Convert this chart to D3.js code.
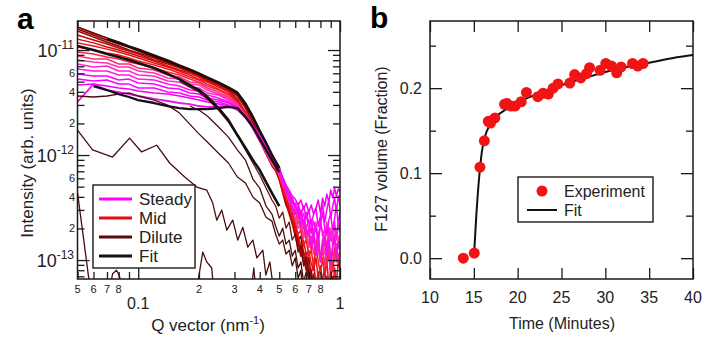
<!DOCTYPE html>
<html>
<head>
<meta charset="utf-8">
<script src="https://cdn.jsdelivr.net/npm/d3@7"></script>
<style>
body { margin: 0; background: #fff; }
svg { font-family: "Liberation Sans", Arial, sans-serif; }
</style>
</head>
<body>
<svg id="chart" width="715" height="340"></svg>
<script>
// ---------- panel a: SAXS curves, intensity in units of 1e-12 ----------
const qGrid = [0.05,0.06,0.07,0.08,0.09,0.1,0.12,0.14,0.16,0.18,0.2,0.22,0.25,0.28,0.31,0.34,0.37,0.4,0.43,0.46,
	0.48,0.5,0.52,0.54,0.56,0.58,0.6,0.62,0.64,0.66,0.68,0.7,0.72,0.74,0.76,0.78,0.8,0.82,0.84,0.86,0.88,0.9,0.92,0.94,0.96,0.98,1.0];

const darkRed1 = [16.6,14.5,13.0,11.9,10.9,10.2,8.96,8.03,7.2,6.59,6.04,5.53,4.96,4.44,3.98,3.13,2.35,1.73,1.33,1.02,
	0.877,0.769,0.553,0.425,0.341,0.274,0.21,0.155,0.169,0.114,0.092,0.105,0.067,0.0518,0.0617,0.04,0.04,0.0496,0.04,0.04,0.04,0.04,0.04,0.04,0.04,0.04,0.04];
const darkRed2 = [15.85,13.9,12.45,11.4,10.7,9.78,8.58,7.69,7.04,6.45,5.91,5.41,4.85,4.35,3.81,2.93,2.2,1.66,1.24,0.957,
	0.821,0.689,0.485,0.373,0.327,0.251,0.193,0.162,0.124,0.096,0.109,0.077,0.059,0.07,0.04,0.0617,0.04,0.04,0.0518,0.04,0.04,0.04,0.04,0.04,0.04,0.04,0.04];
const darkRed3 = [15.2,13.3,11.9,10.9,10.0,9.36,8.39,7.52,6.89,6.31,5.78,5.29,4.74,4.25,3.65,2.80,2.06,1.55,1.17,0.896,
	0.803,0.631,0.454,0.334,0.299,0.23,0.176,0.142,0.109,0.119,0.084,0.067,0.077,0.0518,0.0617,0.04,0.0541,0.04,0.0645,0.04,0.04,0.04,0.04,0.04,0.04,0.04,0.04];
const red1 = [13.9,12.45,11.4,10.45,9.78,9.16,8.03,7.36,6.74,6.17,5.65,5.18,4.64,4.16,3.42,2.51,1.85,1.36,1.02,0.786,
	0.705,0.578,0.434,0.341,0.274,0.22,0.169,0.13,0.142,0.1,0.08,0.096,0.0617,0.074,0.0496,0.0645,0.04,0.0565,0.04,0.07,0.04,0.0496,0.04,0.059,0.04,0.04,0.0518];
const red2 = [12.7,11.7,10.7,10.0,9.36,8.77,7.86,7.04,6.45,6.04,5.53,5.07,4.54,4.07,3.34,2.57,1.93,1.45,1.12,0.858,
	0.752,0.591,0.464,0.365,0.299,0.24,0.193,0.162,0.124,0.105,0.119,0.088,0.074,0.096,0.059,0.077,0.0518,0.067,0.084,0.0496,0.0645,0.04,0.07,0.0541,0.04,0.0617,0.045];
const red3 = [11.7,10.9,10.2,9.57,8.96,8.39,7.52,6.89,6.31,5.78,5.29,4.96,4.44,3.98,3.27,2.51,1.89,1.45,1.12,0.877,
	0.803,0.618,0.464,0.389,0.306,0.262,0.201,0.169,0.136,0.155,0.109,0.124,0.092,0.08,0.105,0.067,0.088,0.059,0.077,0.1,0.0565,0.08,0.0518,0.084,0.067,0.0496,0.074];
const red4 = [10.7,10.0,9.36,8.96,8.39,7.86,7.2,6.59,6.04,5.53,5.18,4.74,4.25,3.81,3.2,2.46,1.85,1.42,1.09,0.858,
	0.821,0.631,0.507,0.389,0.341,0.262,0.23,0.176,0.193,0.136,0.155,0.109,0.124,0.088,0.142,0.096,0.074,0.105,0.07,0.092,0.119,0.0645,0.096,0.08,0.059,0.1,0.077];
const pink1 = [9.57,9.16,8.58,8.21,7.69,7.36,6.74,6.17,5.78,5.29,4.96,4.54,4.16,3.73,3.13,2.40,1.81,1.39,1.07,0.84,
	0.821,0.659,0.507,0.464,0.357,0.313,0.24,0.274,0.184,0.21,0.155,0.18,0.124,0.162,0.109,0.136,0.096,0.119,0.155,0.088,0.124,0.105,0.077,0.13,0.096,0.114,0.088];
const pink2 = [8.77,8.21,8.21,7.36,7.36,6.74,6.45,5.78,5.53,4.96,4.85,4.35,3.98,3.57,3.06,2.35,1.77,1.36,1.04,0.821,
	0.821,0.645,0.541,0.425,0.373,0.286,0.299,0.22,0.251,0.169,0.201,0.136,0.169,0.114,0.142,0.184,0.105,0.13,0.088,0.142,0.109,0.08,0.124,0.096,0.142,0.105,0.119];
const pink3 = [8.03,7.69,7.52,6.89,6.89,6.31,6.04,5.41,5.29,4.74,4.64,4.16,3.81,3.49,2.99,2.40,1.85,1.42,1.09,0.858,
	0.839,0.674,0.529,0.454,0.349,0.327,0.251,0.201,0.23,0.162,0.184,0.13,0.148,0.201,0.119,0.142,0.096,0.162,0.114,0.136,0.169,0.105,0.13,0.155,0.109,0.169,0.13];
const steady1 = [7.36,6.89,7.04,6.31,6.31,5.78,5.65,5.07,4.96,4.44,4.35,3.90,3.73,3.34,2.93,2.35,1.81,1.39,1.07,0.858,
	0.786,0.645,0.565,0.444,0.425,0.32,0.349,0.251,0.299,0.21,0.274,0.193,0.245,0.169,0.23,0.155,0.21,0.188,0.142,0.23,0.162,0.201,0.136,0.215,0.169,0.235,0.184];
const steady2 = [6.59,6.31,6.31,5.78,5.78,5.29,5.18,4.74,4.54,4.16,4.07,3.73,3.49,3.2,2.87,2.35,1.85,1.42,1.12,0.896,
	0.821,0.689,0.529,0.507,0.381,0.389,0.286,0.327,0.235,0.28,0.201,0.24,0.22,0.162,0.21,0.136,0.251,0.169,0.197,0.124,0.206,0.152,0.184,0.23,0.155,0.21,0.197];
const steady3 = [5.91,5.65,5.65,5.18,5.29,4.85,4.74,4.35,4.25,3.9,3.81,3.49,3.34,3.13,2.8,2.35,1.89,1.48,1.17,0.936,
	0.839,0.705,0.591,0.464,0.444,0.349,0.334,0.262,0.293,0.22,0.286,0.23,0.18,0.235,0.193,0.162,0.22,0.286,0.201,0.173,0.24,0.274,0.188,0.251,0.327,0.22,0.286];
const steady4 = [5.29,5.07,5.18,4.74,4.74,4.35,4.35,3.98,3.9,3.65,3.57,3.34,3.2,2.99,2.74,2.3,1.89,1.52,1.22,0.978,
	0.858,0.72,0.604,0.507,0.416,0.389,0.327,0.349,0.268,0.327,0.251,0.299,0.22,0.274,0.313,0.21,0.262,0.341,0.23,0.299,0.373,0.251,0.327,0.389,0.286,0.407,0.341];
const steady5 = [4.64,4.74,4.54,4.35,4.25,4.07,3.9,3.81,3.65,3.49,3.34,3.2,3.06,2.93,2.68,2.25,1.85,1.48,1.19,0.957,
	0.877,0.736,0.618,0.518,0.464,0.407,0.381,0.334,0.373,0.306,0.349,0.286,0.334,0.274,0.313,0.373,0.28,0.389,0.327,0.425,0.357,0.464,0.389,0.485,0.407,0.475,0.444];
const steady6 = [3.2,4.74,4.16,3.98,3.81,3.65,3.42,3.27,3.13,3.06,2.93,2.87,2.87,2.93,2.74,2.3,1.89,1.52,1.22,0.978,
	0.858,0.689,0.578,0.454,0.398,0.313,0.274,0.306,0.21,0.24,0.176,0.197,0.136,0.184,0.114,0.155,0.096,0.142,0.169,0.109,0.155,0.092,0.136,0.173,0.105,0.148,0.124];

const dilute1 = [3.65,3.57,3.65,3.81,3.9,3.65,3.34,2.99,2.51,1.97,1.59,1.33,1.04,0.84,0.618,0.541,0.398,0.349,0.256,0.235,
	0.176,0.142,0.155,0.114,0.124,0.088,0.105,0.067,0.08,0.04,0.0565,0.04,0.04,0.04,0.0496,0.04,0.04,0.04,0.04,0.04,0.04,0.04,0.04,0.04,0.04,0.04,0.04];
const dilute5 = [null,null,null,null,null,null,null,null,null,2.93,2.68,2.35,1.85,1.48,1.12,0.896,0.591,0.485,0.327,0.274,
	0.21,0.169,0.201,0.142,0.155,0.109,0.124,0.084,0.096,0.0617,0.077,0.04,0.0541,0.04,0.04,0.0617,0.04,0.04,0.04,0.04,0.04,0.04,0.04,0.04,0.04,0.04,0.04];
const dilute6 = [null,null,null,null,null,null,null,null,5.07,4.44,3.98,3.42,2.68,2.06,1.52,1.12,0.84,0.645,0.485,0.373,
	0.327,0.251,0.286,0.201,0.23,0.155,0.176,0.119,0.136,0.088,0.105,0.0645,0.08,0.04,0.059,0.04,0.0496,0.04,0.04,0.04,0.04,0.04,0.04,0.04,0.04,0.04,0.04];

const dilute2Q = [0.05,0.0594,0.0746,0.0906,0.1039,0.1234,0.1431,0.170,0.195,0.2185,0.234,0.245,0.2595,0.2747,0.294,0.3115,0.33,0.349,0.37,0.387,0.4145,0.429,0.449,0.47];
const dilute2 = [1.73,1.12,0.957,1.45,1.07,1.24,0.84,0.618,0.496,0.464,0.349,0.24,0.299,0.193,0.24,0.155,0.205,0.133,0.155,0.105,0.124,0.072,0.096,0.05];
const dilute3Q = [0.05,0.058];
const dilute3 = [0.44,0.05];
const dilute4Q = [0.05,0.0704,0.0746,0.0781,0.0808,0.0846,0.1905,0.2088,0.2185,0.2314,0.2393,0.357,0.374,0.387];
const dilute4 = [0.04,0.04,0.074,0.08,0.07,0.04,0.04,0.119,0.096,0.084,0.04,0.04,0.084,0.04];

const fitQ = [0.05,0.06,0.07,0.08,0.09,0.1,0.12,0.14,0.16,0.18,0.2,0.22,0.25,0.28,0.31,0.34,0.37,0.4,0.43,0.46,0.5];
const fitTop = [null,null,12.7,11.7,10.7,10.0,8.77,7.86,7.04,6.45,5.91,5.41,4.85,4.35,3.9,3.06,2.3,1.69,1.3,1.0,0.752];
const fitMid = [10.9,10.0,9.16,8.58,8.03,7.52,6.74,5.91,5.29,4.64,4.16,3.57,2.80,2.15,1.55,1.17,0.896,0.72,0.553,0.434,0.327];
const fitSteady = [null,4.54,4.16,3.81,3.57,3.34,3.13,2.93,2.80,2.74,2.74,2.74,2.80,2.87,2.80,2.30,1.85,1.42,1.12,0.896,0.689];

// axis ticks, panel a
const qMajor = [0.1, 1];
const qMinor = [0.05,0.06,0.07,0.08,0.09,0.2,0.3,0.4,0.5,0.6,0.7,0.8,0.9];
const qMinorLabels = [[0.05,'5'],[0.06,'6'],[0.07,'7'],[0.08,'8'],[0.2,'2'],[0.3,'3'],[0.4,'4'],[0.5,'5'],[0.6,'6'],[0.7,'7'],[0.8,'8']];
const iMajor = [[1e-13,'-13'],[1e-12,'-12'],[1e-11,'-11']];
const iMinor = [7e-14,8e-14,9e-14,2e-13,3e-13,4e-13,5e-13,6e-13,7e-13,8e-13,9e-13,2e-12,3e-12,4e-12,5e-12,6e-12,7e-12,8e-12,9e-12];
const iMinorLabels = [[2e-13,'2'],[4e-13,'4'],[6e-13,'6'],[2e-12,'2'],[4e-12,'4'],[6e-12,'6']];

// ---------- panel b: F127 volume fraction vs time ----------
const expTime = [13.8,15.05,15.7,16.2,16.65,16.9,17.4,18.5,18.75,19.2,19.7,20.4,21.0,22.3,22.9,23.5,24.05,24.6,25.95,26.5,27.2,27.85,28.2,29.4,30.05,30.7,31.3,31.8,33.1,33.7,34.3];
const expFrac = [0.0,0.006,0.107,0.138,0.161,0.159,0.165,0.181,0.182,0.179,0.179,0.184,0.195,0.190,0.194,0.193,0.200,0.205,0.206,0.216,0.212,0.217,0.224,0.221,0.229,0.226,0.218,0.225,0.229,0.226,0.229];
const fitTime = [15.0,15.3,15.58,15.9,16.27,16.84,17.6,18.5,19.5,21,22.5,24,26,28,30,32,34,36,38,40];
const fitFrac = [0.0,0.053,0.092,0.124,0.143,0.157,0.167,0.174,0.179,0.188,0.194,0.200,0.207,0.213,0.219,0.224,0.228,0.232,0.236,0.239];
const timeTicks = [10,15,20,25,30,35,40];
const fracTicks = [0.0,0.1,0.2];
const fracMinor = [0.05,0.15,0.25];

// ---------- layout ----------
const UNIT = 1e-12;
const boxA = { left: 77.5, right: 340, top: 21, bottom: 279 };
const boxB = { left: 430, right: 693, top: 21, bottom: 279 };

const xA = d3.scaleLog().domain([0.05, 1]).range([boxA.left, boxA.right]);
const yA = d3.scaleLog().domain([6.6e-14, 1.89e-11]).range([boxA.bottom, boxA.top]);
const xB = d3.scaleLinear().domain([10, 40]).range([boxB.left, boxB.right]);
const yB = d3.scaleLinear().domain([-0.0245, 0.279]).range([boxB.bottom, boxB.top]);

const svg = d3.select('#chart');

function tickRow(axisFn, scale, values, size, transform) {
	svg.append('g')
		.attr('transform', transform)
		.call(axisFn(scale).tickValues(values).tickSize(size).tickFormat(''))
		.call(g => g.select('.domain').remove())
		.selectAll('line').attr('stroke', '#1a1a1a').attr('stroke-width', 1.3);
}

function frame(box) {
	svg.append('rect')
		.attr('x', box.left).attr('y', box.top)
		.attr('width', box.right - box.left).attr('height', box.bottom - box.top)
		.attr('fill', 'none').attr('stroke', '#1a1a1a').attr('stroke-width', 1.5);
}

function drawPanelA() {
	svg.append('clipPath').attr('id', 'clipA')
		.append('rect').attr('x', boxA.left).attr('y', boxA.top)
		.attr('width', boxA.right - boxA.left).attr('height', boxA.bottom - boxA.top);

	const plot = svg.append('g').attr('clip-path', 'url(#clipA)');
	const line = d3.line()
		.defined(d => d[1] != null)
		.x(d => xA(d[0]))
		.y(d => yA(d[1] * UNIT));

	function curve(qs, vals, color, width) {
		plot.append('path')
			.datum(qs.map((q, i) => [q, vals[i]]))
			.attr('d', line)
			.attr('fill', 'none')
			.attr('stroke', color)
			.attr('stroke-width', width)
			.attr('stroke-linejoin', 'round');
	}

	// mid / dark red curves, then the steady ones on top
	curve(qGrid, darkRed1, '#6e0000', 1.7);
	curve(qGrid, darkRed2, '#850303', 1.7);
	curve(qGrid, darkRed3, '#9c0606', 1.7);
	curve(qGrid, red1, '#b80808', 1.5);
	curve(qGrid, red2, '#d00a0a', 1.5);
	curve(qGrid, red3, '#e31212', 1.5);
	curve(qGrid, red4, '#f21a22', 1.5);
	curve(qGrid, pink1, '#ff2048', 1.5);
	curve(qGrid, pink2, '#ff2c78', 1.5);
	curve(qGrid, pink3, '#ff36a4', 1.5);
	curve(qGrid, steady1, '#ff28cc', 1.5);
	curve(qGrid, steady2, '#ff18e2', 1.5);
	curve(qGrid, steady3, '#ff00ff', 1.5);
	curve(qGrid, steady4, '#ff00ff', 1.5);
	curve(qGrid, steady5, '#f500f5', 1.5);
	curve(qGrid, steady6, '#ee10ee', 1.8);

	// dilute
	curve(qGrid, dilute1, '#4a0d0d', 1.3);
	curve(dilute2Q, dilute2, '#4a0d0d', 1.3);
	curve(dilute3Q, dilute3, '#4a0d0d', 1.3);
	curve(dilute4Q, dilute4, '#4a0d0d', 1.3);
	curve(qGrid, dilute5, '#4a0d0d', 1.3);
	curve(qGrid, dilute6, '#6b0d0d', 1.3);

	// fits
	curve(fitQ, fitTop, '#121212', 2.3);
	curve(fitQ, fitMid, '#121212', 2.6);
	curve(fitQ, fitSteady, '#1e0a24', 2.3);

	// ticks, all pointing inward
	tickRow(d3.axisBottom, xA, qMajor, -11, `translate(0,${boxA.bottom})`);
	tickRow(d3.axisBottom, xA, qMinor, -7, `translate(0,${boxA.bottom})`);
	tickRow(d3.axisTop, xA, qMajor, -11, `translate(0,${boxA.top})`);
	tickRow(d3.axisTop, xA, qMinor, -7, `translate(0,${boxA.top})`);
	tickRow(d3.axisLeft, yA, iMajor.map(d => d[0]), -12, `translate(${boxA.left},0)`);
	tickRow(d3.axisLeft, yA, iMinor, -7, `translate(${boxA.left},0)`);
	tickRow(d3.axisRight, yA, iMajor.map(d => d[0]), -12, `translate(${boxA.right},0)`);
	tickRow(d3.axisRight, yA, iMinor, -7, `translate(${boxA.right},0)`);
	frame(boxA);

	// tick labels
	svg.append('g').selectAll('text').data(qMinorLabels).enter().append('text')
		.attr('x', d => xA(d[0])).attr('y', 293)
		.attr('text-anchor', 'middle').attr('font-size', 11).attr('fill', '#222')
		.text(d => d[1]);
	svg.append('g').selectAll('text').data(qMajor).enter().append('text')
		.attr('x', d => xA(d)).attr('y', 309)
		.attr('text-anchor', 'middle').attr('font-size', 16).attr('fill', '#222')
		.text(d => d === 1 ? '1' : '0.1');

	svg.append('g').selectAll('text').data(iMinorLabels).enter().append('text')
		.attr('x', 75).attr('y', d => yA(d[0]) + 4)
		.attr('text-anchor', 'end').attr('font-size', 11).attr('fill', '#222')
		.text(d => d[1]);
	const major = svg.append('g').selectAll('text').data(iMajor).enter().append('text')
		.attr('x', 74).attr('y', d => yA(d[0]) + 7)
		.attr('text-anchor', 'end').attr('font-size', 18).attr('fill', '#222');
	major.append('tspan').text('10');
	major.append('tspan').attr('dy', -8).attr('font-size', 12).text(d => d[1]);

	// axis titles
	const xt = svg.append('text').attr('x', 208).attr('y', 331)
		.attr('text-anchor', 'middle').attr('font-size', 17).attr('fill', '#222');
	xt.append('tspan').text('Q vector (nm');
	xt.append('tspan').attr('dy', -7).attr('font-size', 11).text('-1');
	xt.append('tspan').attr('dy', 7).text(')');

	svg.append('text').attr('transform', 'translate(33,163) rotate(-90)')
		.attr('text-anchor', 'middle').attr('font-size', 17).attr('fill', '#222')
		.text('Intensity (arb. units)');

	// legend
	const legendItems = [['Steady', '#ff00ff'], ['Mid', '#e01010'], ['Dilute', '#5a0a0a'], ['Fit', '#121212']];
	svg.append('rect').attr('x', 93).attr('y', 185).attr('width', 102).attr('height', 83)
		.attr('fill', '#fff').attr('stroke', '#1a1a1a').attr('stroke-width', 1.4);
	const leg = svg.append('g').selectAll('g').data(legendItems).enter().append('g')
		.attr('transform', (d, i) => `translate(0,${199 + i * 19})`);
	leg.append('line').attr('x1', 99).attr('x2', 132)
		.attr('stroke', d => d[1]).attr('stroke-width', 3);
	leg.append('text').attr('x', 139).attr('y', 6)
		.attr('font-size', 17).attr('fill', '#222').text(d => d[0]);

	svg.append('text').attr('x', 17).attr('y', 29)
		.attr('font-size', 30).attr('font-weight', 'bold').text('a');
}

function drawPanelB() {
	tickRow(d3.axisBottom, xB, timeTicks, -11, `translate(0,${boxB.bottom})`);
	tickRow(d3.axisTop, xB, timeTicks, -11, `translate(0,${boxB.top})`);
	tickRow(d3.axisLeft, yB, fracTicks, -12, `translate(${boxB.left},0)`);
	tickRow(d3.axisLeft, yB, fracMinor, -6, `translate(${boxB.left},0)`);
	tickRow(d3.axisRight, yB, fracTicks, -12, `translate(${boxB.right},0)`);
	tickRow(d3.axisRight, yB, fracMinor, -7, `translate(${boxB.right},0)`);
	frame(boxB);

	svg.append('path')
		.datum(fitTime.map((t, i) => [t, fitFrac[i]]))
		.attr('d', d3.line().x(d => xB(d[0])).y(d => yB(d[1])).curve(d3.curveMonotoneX))
		.attr('fill', 'none').attr('stroke', '#111').attr('stroke-width', 2);

	svg.append('g').selectAll('circle').data(expTime).enter().append('circle')
		.attr('cx', d => xB(d)).attr('cy', (d, i) => yB(expFrac[i]))
		.attr('r', 5.5).attr('fill', '#f01414');

	svg.append('g').selectAll('text').data(timeTicks).enter().append('text')
		.attr('x', d => xB(d)).attr('y', 303)
		.attr('text-anchor', 'middle').attr('font-size', 16).attr('fill', '#222')
		.text(d => d);
	svg.append('g').selectAll('text').data(fracTicks).enter().append('text')
		.attr('x', 422).attr('y', d => yB(d) + 6)
		.attr('text-anchor', 'end').attr('font-size', 16).attr('fill', '#222')
		.text(d => d.toFixed(1));

	svg.append('text').attr('x', 562).attr('y', 329)
		.attr('text-anchor', 'middle').attr('font-size', 16).attr('fill', '#222')
		.text('Time (Minutes)');
	svg.append('text').attr('transform', 'translate(387,149) rotate(-90)')
		.attr('text-anchor', 'middle').attr('font-size', 16).attr('fill', '#222')
		.text('F127 volume (Fraction)');

	// legend
	svg.append('rect').attr('x', 518).attr('y', 177).attr('width', 135).attr('height', 45)
		.attr('fill', '#fff').attr('stroke', '#1a1a1a').attr('stroke-width', 1.4);
	svg.append('circle').attr('cx', 542).attr('cy', 191).attr('r', 5.5).attr('fill', '#f01414');
	svg.append('line').attr('x1', 527).attr('x2', 557).attr('y1', 210).attr('y2', 210)
		.attr('stroke', '#111').attr('stroke-width', 2);
	svg.append('text').attr('x', 564).attr('y', 197).attr('font-size', 16).attr('fill', '#222').text('Experiment');
	svg.append('text').attr('x', 564).attr('y', 216).attr('font-size', 16).attr('fill', '#222').text('Fit');

	svg.append('text').attr('x', 370).attr('y', 28)
		.attr('font-size', 30).attr('font-weight', 'bold').text('b');
}

drawPanelA();
drawPanelB();
</script>
</body>
</html>
